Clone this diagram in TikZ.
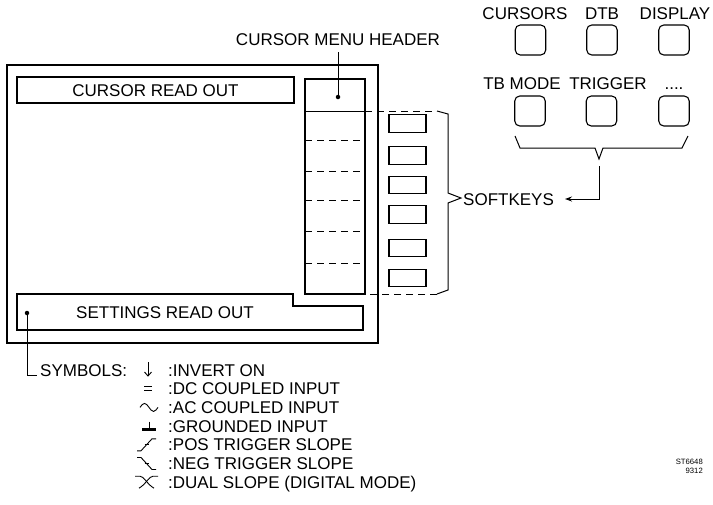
\documentclass[tikz,border=0pt]{standalone}
\usepackage{fontspec}
\setmainfont{Liberation Sans}
\usetikzlibrary{arrows.meta}
\begin{document}
\begin{tikzpicture}[x=1pt,y=-1pt,
  lbl/.style={inner sep=0pt, font=\fontsize{17}{20}\selectfont, text height=12.2pt, text depth=0pt},
  boxline/.style={line width=1.3pt},
  cell/.style={line width=1pt, dash pattern=on 7pt off 5pt},
  keybox/.style={draw, line width=1.3pt, minimum width=37pt, minimum height=17.5pt, inner sep=0pt},
  button/.style={draw, line width=1.1pt, rounded corners=5pt, minimum width=30.5pt, minimum height=30pt, inner sep=0pt},
  dotmark/.style={circle, fill, inner sep=0pt, minimum size=4.5pt},
  sym/.style={line width=0.9pt},
  small/.style={inner sep=0pt, font=\fontsize{7.7}{8}\selectfont, anchor=east}
]
\useasboundingbox (0,0) rectangle (713,504);

% outer screen frame
\node[draw, line width=1.4pt, minimum width=371pt, minimum height=278pt, inner sep=0pt] (screen) at (192.5,204) {};

% cursor read out
\node[draw, boxline, lbl, minimum width=277pt, minimum height=26pt] (cro) at (155.5,90) {CURSOR READ OUT};

% menu column
\node[draw, boxline, minimum width=60pt, minimum height=215pt, inner sep=0pt] (menu) at (335,186.5) {};
\coordinate (hl) at (305,111);
\coordinate (hr) at (365,111);
\draw[line width=1pt] (hl) -- (hr);
\foreach \yy in {140,171,200,231,263}{
  \draw[cell] (305,\yy) -- (365,\yy);
}
\node[dotmark] (hdot) at (338,97) {};
\node[lbl] (hdr) at (338,39) {CURSOR MENU HEADER};
\draw[line width=1pt] ([yshift=-7pt]hdr.south -| hdot.center) -- (hdot.center);

% soft key boxes
\node[keybox] (k1) at (407.5,123.5) {};
\node[keybox] (k2) at (407.5,155.5) {};
\node[keybox] (k3) at (407.5,185) {};
\node[keybox] (k4) at (407.5,214.5) {};
\node[keybox] (k5) at (407.5,248) {};
\node[keybox] (k6) at (407.5,278) {};

% bracket around soft keys
\coordinate (btop) at (365,111);
\coordinate (bbot) at (365,294);
\coordinate (btip) at (461,198);
\draw[cell] (btop) -- (437,111);
\draw[line width=1pt] (437,111) -- (448,114) -- (448,193) -- (btip) -- (448,203) -- (448,290) -- (437,294);
\draw[cell] (437,294) -- (bbot);
\node[lbl, anchor=west] (sk) at (463,199) {SOFTKEYS};

% settings read out
\draw[boxline] (17,294) -- (293,294) -- (293,306) -- (363,306) -- (363,330) -- (17,330) -- cycle;
\node[lbl] (sro) at (165,312) {SETTINGS READ OUT};
\node[dotmark] (sdot) at (27,313) {};

% top right buttons
\node[lbl] (l1) at (525,13) {CURSORS};
\node[lbl] (l2) at (602,13) {DTB};
\node[lbl] (l3) at (675,13) {DISPLAY};
\node[button] (b1) at (530.5,40) {};
\node[button] (b2) at (602,40) {};
\node[button] (b3) at (674,40) {};
\node[lbl] (l4) at (522,83) {TB MODE};
\node[lbl] (l5) at (608,83) {TRIGGER};
\node[lbl] (l6) at (674,83) {....};
\node[button] (b4) at (530,111) {};
\node[button] (b5) at (601.5,111) {};
\node[button] (b6) at (674,111) {};
\draw[line width=1pt] (515,136) -- (520,148) -- (595,148) -- (599,159) -- (603,148) -- (682,148) -- (688,136);
\coordinate (bt) at (599,166);
\coordinate (ah) at (565,199);
\draw[line width=1pt, -{Stealth[length=7pt,width=5pt]}] (bt) |- (ah);

% symbols legend
\node[lbl, anchor=west] (symb) at (40,370) {SYMBOLS:};
\draw[line width=1pt] (sdot.center) |- ([xshift=-3pt,yshift=-5pt]symb.west);

\node[lbl, anchor=west] (s1) at (168,370) {:INVERT ON};
\node[lbl, anchor=west] (s2) at (168,388.7) {:DC COUPLED INPUT};
\node[lbl, anchor=west] (s3) at (168,407.4) {:AC COUPLED INPUT};
\node[lbl, anchor=west] (s4) at (168,426.1) {:GROUNDED INPUT};
\node[lbl, anchor=west] (s5) at (168,444.8) {:POS TRIGGER SLOPE};
\node[lbl, anchor=west] (s6) at (168,463.5) {:NEG TRIGGER SLOPE};
\node[lbl, anchor=west] (s7) at (168,482.2) {:DUAL SLOPE (DIGITAL MODE)};

% invert arrow
\draw[sym] (148,362) -- (148,376);
\draw[sym] (144.5,372) -- (148,376) -- (151.5,372);
% DC
\draw[line width=0.8pt] (144,386.7) -- (152,386.7);
\draw[line width=0.8pt] (144,390.2) -- (152,390.2);
% AC
\draw[sym] (140,407.4) sin (144.5,403.4) cos (149,407.4) sin (153.5,411.4) cos (158,407.4);
% ground
\draw[sym] (149,421.6) -- (149,428.6);
\fill (142,428.1) rectangle (156,431.1);
% pos slope
\draw[sym] (137,450.8) -- (141,450.8) -- (152,438.8) -- (156,438.8);
\draw[sym] (144.5,444.8) -- (149,444.8);
% neg slope
\draw[sym] (137,457.5) -- (141,457.5) -- (152,469.5) -- (156,469.5);
\draw[sym] (144.5,463.5) -- (149,463.5);
% dual slope
\draw[sym] (135,476.2) -- (140,476.2) .. controls (144,476.2) and (147,484.2) .. (154,488.2);
\draw[sym] (158,476.2) -- (153,476.2) .. controls (149,476.2) and (146,484.2) .. (139,488.2);

% reference number
\node[small] (st) at (703,462) {ST6648};
\node[small] (nr) at (703,471) {9312};
\end{tikzpicture}
\end{document}
